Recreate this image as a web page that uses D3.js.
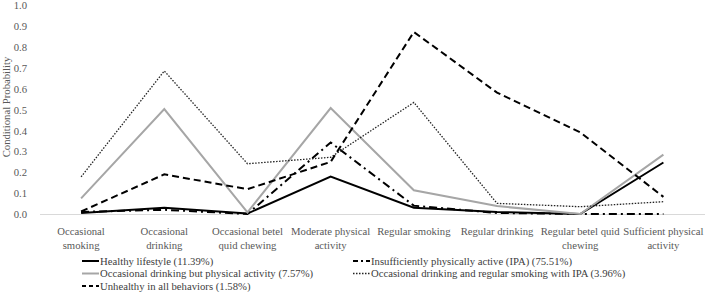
<!DOCTYPE html>
<html><head><meta charset="utf-8">
<script src="https://cdn.jsdelivr.net/npm/d3@7/dist/d3.min.js"></script>
<style>body{margin:0;background:#fff}svg{display:block}</style>
</head><body><svg id="c" width="705" height="292"></svg>
<script>
const categories = [["Occasional","smoking"],["Occasional","drinking"],["Occasional betel","quid chewing"],["Moderate physical","activity"],["Regular smoking"],["Regular drinking"],["Regular betel quid","chewing"],["Sufficient physical","activity"]];
const yTicks = [0,0.1,0.2,0.3,0.4,0.5,0.6,0.7,0.8,0.9,1.0];
const healthy = [0.005,0.03,0.002,0.18,0.03,0.01,0.0,0.247];
const ipa = [0.01,0.02,0.0,0.343,0.04,0.005,0.0,0.0];
const occDrinkPA = [0.075,0.503,0.008,0.508,0.114,0.038,0.0,0.285];
const occDrinkSmokeIPA = [0.178,0.686,0.241,0.272,0.535,0.051,0.035,0.059];
const unhealthy = [0.012,0.19,0.119,0.25,0.873,0.582,0.392,0.082];
const seriesNames = ["Healthy lifestyle (11.39%)","Insufficiently physically active (IPA) (75.51%)","Occasional drinking but physical activity (7.57%)","Occasional drinking and regular smoking with IPA (3.96%)","Unhealthy in all behaviors (1.58%)"];

const FONT = "Liberation Serif";
const FS = 10.7;
const styles = [
  {color:"#000", w:2, dash:null},
  {color:"#000", w:2, dash:"8,4,2,4"},
  {color:"#a6a6a6", w:2, dash:null},
  {color:"#222", w:1.3, dash:"1.5,1.5"},
  {color:"#000", w:2, dash:"7,4"}
];
const data = [healthy, ipa, occDrinkPA, occDrinkSmokeIPA, unhealthy];

const svg = d3.select("#c");
const x = d3.scaleBand().domain(d3.range(categories.length)).range([39.5,705]);
const y = d3.scaleLinear().domain([0,1]).range([214,5.5]);

const ya = svg.append("g").attr("transform","translate(30,0)").call(d3.axisLeft(y).tickValues(yTicks).tickFormat(d3.format(".1f")).tickSize(0).tickPadding(3));
ya.attr("font-family",FONT).attr("font-size",FS);
ya.select(".domain").remove();
ya.selectAll("text").attr("font-family",FONT).attr("font-size",FS).attr("fill","#595959");

const xa = svg.append("g").attr("transform","translate(0,214)").call(d3.axisBottom(x).tickSize(0).tickFormat(""));
xa.select(".domain").attr("stroke","#d9d9d9").attr("stroke-width",1);

categories.forEach((lines,i)=>{
  const cx = x(i)+x.bandwidth()/2;
  const t = svg.append("text").attr("x",cx).attr("y",234.5).attr("text-anchor","middle").attr("font-size",FS).attr("font-family",FONT).attr("fill","#595959");
  lines.forEach((l,j)=>t.append("tspan").attr("x",cx).attr("dy",j?14:0).text(l));
});

svg.append("text").attr("transform","translate(10,107) rotate(-90)").attr("text-anchor","middle").attr("font-size",FS).attr("font-family",FONT).attr("fill","#595959").text("Conditional Probability");

const line = d3.line().x((d,i)=>x(i)+x.bandwidth()/2).y(d=>y(d));
data.forEach((s,k)=>{
  const p = svg.append("path").datum(s).attr("d",line).attr("fill","none").attr("stroke",styles[k].color).attr("stroke-width",styles[k].w).attr("stroke-linejoin","miter");
  if(styles[k].dash) p.attr("stroke-dasharray",styles[k].dash);
});

const legPos = [[82,264.5],[353,264.5],[82,277],[353,277],[82,289.5]];
seriesNames.forEach((n,k)=>{
  const [lx,ly] = legPos[k];
  const p = svg.append("line").attr("x1",lx).attr("x2",lx+17).attr("y1",ly-3.5).attr("y2",ly-3.5).attr("stroke",styles[k].color).attr("stroke-width",styles[k].w);
  if(styles[k].dash) p.attr("stroke-dasharray",k===1?"5,3,2,3":(k===4?"4,3":styles[k].dash));
  svg.append("text").attr("x",lx+18).attr("y",ly).attr("font-size",FS).attr("font-family",FONT).attr("fill","#404040").text(n);
});
</script></body></html>
